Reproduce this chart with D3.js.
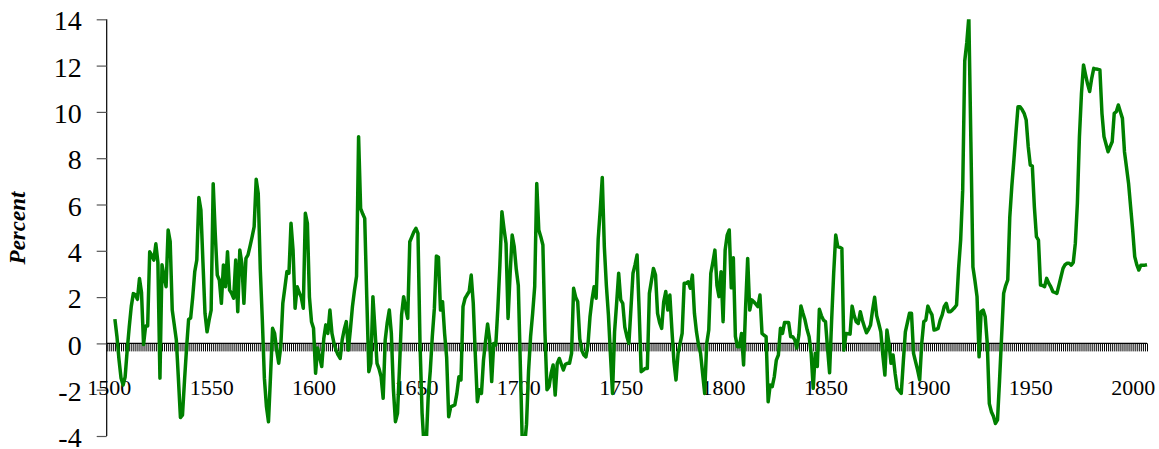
<!DOCTYPE html>
<html>
<head>
<meta charset="utf-8">
<script src="https://cdn.jsdelivr.net/npm/d3@7"></script>
<style>
  html, body { margin: 0; padding: 0; background: #fff; }
  svg { display: block; }
</style>
</head>
<body>
<svg id="chart" width="1159" height="449"></svg>
<script>
// Annual percent series, one value per year starting at firstYear.
const firstYear = 1503;
const percent = [
  1.05, 0.3, -0.7, -1.5, -1.8, -1.45, -0.3,                         // 1503-1509
  0.7, 1.6, 2.15, 2.1, 1.9, 2.8, 2.2, -0.05, 0.75, 0.75,            // 1510s
  3.96, 3.8, 3.6, 4.3, 3.5, -1.5, 3.4, 2.9, 2.45, 4.9,              // 1520s
  4.4, 1.44, 0.8, 0.15, -1.5, -3.2, -3.1, -1.6, -0.2, 1.04,         // 1530s
  1.1, 2.0, 3.1, 3.6, 6.3, 5.76, 3.5, 1.3, 0.5, 1.0,                // 1540s
  1.44, 6.9, 4.75, 2.95, 2.74, 1.73, 3.39, 2.45, 3.96, 2.3,         // 1550s
  2.16, 1.95, 3.6, 1.37, 4.03, 3.46, 1.73, 3.67, 3.82, 4.2,         // 1560s
  4.6, 5.04, 7.09, 6.48, 3.2, 1.0, -1.5, -2.73, -3.38, -1.4,        // 1570s
  0.65, 0.43, -0.3, -0.86, -0.14, 1.73, 2.4, 3.1, 3.03, 5.19,       // 1580s
  4.03, 1.52, 2.45, 2.2, 2.0, 1.52, 5.62, 5.19, 2.0, 0.94,          // 1590s
  0.65, -1.29, -0.2, -0.6, -1.0, 0.2, 0.8, 0.43, 1.44, 0.43,        // 1600s
  0.0, -0.29, -0.5, -0.65, 0.15, 0.6, 0.94, -0.29, 0.6, 1.59,       // 1610s
  2.3, 2.9, 8.93, 5.83, 5.6, 5.4, 2.0, -1.22, -0.86, 2.02,          // 1620s
  0.6, -0.86, -1.1, -1.44, -2.37, 0.15, 0.9, 1.44, 0.43, -2.0,      // 1630s
  -3.38, -3.02, -1.0, 1.23, 2.02, 1.5, 1.08, 4.39, 4.6, 4.82,       // 1640s
  4.97, 4.75, 0.0, -3.0, -4.5, -4.4, -2.3, -1.2, 0.3, 1.5,          // 1650s
  3.77, 3.72, 1.44, 1.8, 0.43, -0.6, -3.17, -2.74, -2.7, -2.66,     // 1660s
  -2.16, -1.44, -1.58, 1.59, 1.95, 2.1, 2.24, 2.95, 1.73, -0.5,     // 1670s
  -2.52, -2.0, -2.16, -0.72, 0.1, 0.84, 0.15, -1.65, 0.0, -0.07,    // 1680s
  1.5, 3.39, 5.69, 4.97, 4.32, 1.08, 3.0, 4.68, 4.18, 3.2,          // 1690s
  2.5, -1.0, -4.5, -4.5, -3.5, -1.2, 0.3, 1.3, 2.45, 6.91,          // 1700s
  4.9, 4.6, 4.25, 0.5, -2.0, -1.87, -1.3, -0.93, -2.23, -0.86,      // 1710s
  -0.65, -0.9, -1.15, -0.9, -0.86, -0.86, -0.43, 2.38, 2.0, 1.8,    // 1720s
  0.2, -0.3, -0.5, -0.58, -0.07, 1.15, 1.9, 2.45, 1.95, 4.5,        // 1730s
  5.76, 7.17, 4.18, 2.5, 1.23, -0.5, -2.16, 0.5, 1.73, 3.03,        // 1740s
  1.88, 1.73, 0.7, 0.3, 0.0, 1.5, 3.03, 3.39, 3.82, 1.44,           // 1750s
  -1.22, -1.15, -1.08, -1.08, 2.16, 2.7, 3.24, 2.95, 1.3, 0.9,      // 1760s
  0.65, 1.8, 2.24, 1.44, 2.09, 0.58, -0.8, -1.58, -0.43, 0.0,       // 1770s
  0.43, 2.6, 2.6, 2.66, 2.38, 2.95, 1.3, 0.5, -0.07, -0.43,         // 1780s
  -1.3, -2.16, 0.0, 0.58, 3.03, 3.5, 4.03, 2.5, 2.02, 3.1,          // 1790s
  0.94, 4.03, 4.68, 4.9, 2.4, 3.7, 0.3, -0.14, -0.14, 0.43,         // 1800s
  -0.93, 1.59, 3.67, 1.44, 1.88, 1.8, 1.7, 1.59, 2.09, 0.43,        // 1810s
  0.35, 0.29, -2.52, -1.8, -1.87, -1.44, -0.72, -0.5, 0.65, 0.43,   // 1820s
  0.9, 0.9, 0.9, 0.29, 0.29, 0.15, -0.2, 0.36, 1.62, 1.3,           // 1830s
  1.01, 0.6, 0.29, -0.43, -1.94, -0.43, -1.0, 1.47, 1.2, 1.01,      // 1840s
  0.94, -0.2, -1.27, 1.0, 3.03, 4.68, 4.18, 4.15, 4.1, -0.29,       // 1850s
  0.43, 0.42, 0.4, 1.61, 1.2, 0.94, 0.86, 1.37, 1.0, 0.72,          // 1860s
  0.46, 0.6, 0.79, 1.44, 1.99, 1.2, 0.86, 0.5, -0.5, -1.37,         // 1870s
  0.58, 0.0, -0.86, -0.5, -1.3, -1.94, -2.05, -2.16, -0.8, 0.5,     // 1880s
  0.9, 1.3, 1.3, -0.43, -0.8, -1.15, -1.58, 0.0, 0.94, 1.01,        // 1890s
  1.61, 1.4, 1.23, 0.58, 0.6, 0.65, 1.0, 1.23, 1.6, 1.73,           // 1900s
  1.37, 1.37, 1.45, 1.54, 1.66, 3.24, 4.46, 6.62, 12.2, 13.0,       // 1910s
  14.1, 8.7, 3.3, 2.7, 2.02, -0.58, 1.37, 1.44, 1.15, 0.0,          // 1920s
  -2.6, -2.95, -3.15, -3.46, -3.3, -1.6, 0.3, 2.16, 2.5, 2.74,      // 1930s
  5.47, 6.8, 7.92, 9.1, 10.22, 10.22, 10.1, 9.94, 9.65, 8.5,        // 1940s
  7.7, 7.66, 5.9, 4.61, 4.46, 2.52, 2.5, 2.45, 2.81, 2.6,           // 1950s
  2.45, 2.24, 2.2, 2.16, 2.52, 2.88, 3.24, 3.4, 3.46, 3.46,         // 1960s
  3.38, 3.5, 4.32, 6.05, 8.93, 10.8, 12.03, 11.6, 11.2, 10.88,      // 1970s
  11.45, 11.88, 11.85, 11.84, 11.81, 9.94, 8.93, 8.6, 8.28, 8.5,    // 1980s
  8.71, 9.94, 10.01, 10.3, 10.01, 9.72, 8.28, 7.6, 6.91, 5.9,       // 1990s
  4.9, 3.75, 3.4, 3.17, 3.38, 3.38, 3.38, 3.4                       // 2000-2007
];

// Axis settings
const yTicks = [-4, -2, 0, 2, 4, 6, 8, 10, 12, 14];
const xLabelYears = [1500, 1550, 1600, 1650, 1700, 1750, 1800, 1850, 1900, 1950, 2000];
const xDomain = [1499, 2007];
const yDomain = [-4, 14];
const yTitle = "Percent";

const series = percent.map((v, i) => ({ year: firstYear + i, value: v }));

const svg = d3.select("#chart");
const plotLeft = 106.7, plotRight = 1147, plotTop = 19.3, plotBottom = 436;

const x = d3.scaleLinear().domain(xDomain).range([plotLeft, plotRight]);
const y = d3.scaleLinear().domain(yDomain).range([plotBottom, plotTop]);

const serif = '"Liberation Serif", "Times New Roman", serif';

// Plot clip so the extreme values stop at the frame
svg.append("defs").append("clipPath").attr("id", "plotClip")
  .append("rect")
  .attr("x", plotLeft).attr("y", plotTop)
  .attr("width", plotRight - plotLeft + 4).attr("height", plotBottom - plotTop);

// Y axis
const yAxis = svg.append("g")
  .attr("transform", `translate(${plotLeft},0)`)
  .call(d3.axisLeft(y).tickValues(yTicks).tickSize(10).tickPadding(15)
    .tickFormat(d => d < 0 ? "-" + Math.abs(d) : String(d)));
yAxis.select(".domain").attr("stroke", "#000").attr("stroke-width", 1.2)
  .attr("d", `M0,${y(yDomain[1])}V${y(yDomain[0])}`);
yAxis.selectAll(".tick line").attr("stroke", "#555").attr("stroke-width", 1.2);
yAxis.selectAll(".tick text")
  .attr("font-family", serif).attr("font-size", 28).attr("fill", "#000")
  .attr("dy", "0.38em");

// X axis: one tick for every year along the zero line
const yearTicks = d3.range(xDomain[0], xDomain[1] + 1);
const xAxis = svg.append("g")
  .attr("transform", `translate(0,${y(0)})`)
  .call(d3.axisBottom(x).tickValues(yearTicks).tickSize(8).tickFormat(""));
xAxis.select(".domain").attr("stroke", "#000").attr("stroke-width", 1.2)
  .attr("d", `M${plotLeft},0H${plotRight}`);
xAxis.selectAll(".tick line").attr("stroke", "#000").attr("stroke-width", 1);

// X labels every 50 years
const xLab = svg.append("g")
  .attr("transform", `translate(0,${y(0)})`)
  .call(d3.axisBottom(x).tickValues(xLabelYears).tickSize(0).tickPadding(36)
    .tickFormat(d3.format("d")));
xLab.select(".domain").remove();
xLab.selectAll(".tick text")
  .attr("font-family", serif).attr("font-size", 22).attr("fill", "#000");

// Axis title
svg.append("text")
  .attr("transform", `translate(25,228) rotate(-90)`)
  .attr("text-anchor", "middle")
  .attr("font-family", serif)
  .attr("font-size", 23)
  .attr("font-weight", "bold")
  .attr("font-style", "italic")
  .attr("fill", "#000")
  .text(yTitle);

// Series line
const line = d3.line()
  .x(d => x(d.year))
  .y(d => y(d.value))
  .curve(d3.curveLinear);

svg.append("path")
  .datum(series)
  .attr("clip-path", "url(#plotClip)")
  .attr("fill", "none")
  .attr("stroke", "#008000")
  .attr("stroke-width", 3.5)
  .attr("stroke-linejoin", "round")
  .attr("stroke-linecap", "butt")
  .attr("d", line);
</script>
</body>
</html>
